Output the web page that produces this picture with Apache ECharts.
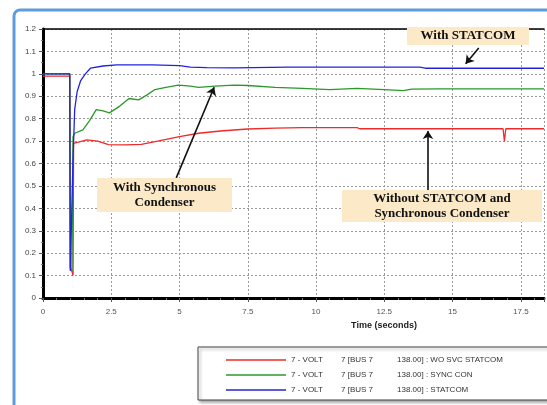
<!DOCTYPE html>
<html>
<head>
<meta charset="utf-8">
<script src="https://cdn.jsdelivr.net/npm/echarts@6/dist/echarts.min.js"></script>
<style>
  html, body { margin: 0; padding: 0; background: #fff; }
  #chart { width: 547px; height: 405px; }
</style>
</head>
<body>
<div id="chart"></div>
<script>
// bus 7 voltage (pu) vs time (s)
var seriesNames = ['WO SVC STATCOM', 'SYNC CON', 'STATCOM'];
var legendParts = [
  ['7 - VOLT', '7 [BUS 7', '138.00] : WO SVC STATCOM'],
  ['7 - VOLT', '7 [BUS 7', '138.00] : SYNC CON'],
  ['7 - VOLT', '7 [BUS 7', '138.00] : STATCOM']
];
var colors = ['#ee2a2a', '#2a982a', '#2323dd'];

var timeRed = [0, 0.98, 1.0, 1.08, 1.1, 1.12, 1.3, 1.6, 2.0, 2.4, 3.0, 3.6, 4.2, 4.6, 5.0, 5.7, 6.5, 7.5, 8.5, 9.5, 11.5, 11.6, 16.85, 16.9, 16.95, 18.35];
var voltRed = [0.99, 0.99, 0.14, 0.11, 0.10, 0.69, 0.695, 0.705, 0.70, 0.684, 0.683, 0.685, 0.70, 0.71, 0.72, 0.735, 0.745, 0.754, 0.758, 0.76, 0.76, 0.755, 0.755, 0.70, 0.755, 0.755];

var timeGreen = [0, 0.98, 1.0, 1.06, 1.1, 1.16, 1.46, 1.7, 1.95, 2.2, 2.43, 2.8, 3.15, 3.5, 3.8, 4.1, 4.5, 4.96, 5.4, 5.7, 6.3, 7.0, 7.5, 8.5, 9.5, 10.5, 11.5, 12.5, 13.2, 13.5, 14.5, 18.35];
var voltGreen = [1.0, 1.0, 0.13, 0.12, 0.72, 0.735, 0.75, 0.79, 0.84, 0.835, 0.826, 0.855, 0.89, 0.884, 0.905, 0.93, 0.94, 0.95, 0.945, 0.94, 0.945, 0.95, 0.948, 0.94, 0.935, 0.93, 0.935, 0.93, 0.925, 0.932, 0.933, 0.933];

var timeBlue = [0, 0.98, 1.0, 1.06, 1.1, 1.16, 1.25, 1.38, 1.55, 1.74, 2.2, 2.7, 4.0, 5.0, 5.4, 6.0, 7.0, 9.0, 12.0, 13.8, 14.0, 18.35];
var voltBlue = [1.0, 1.0, 0.12, 0.12, 0.62, 0.84, 0.92, 0.97, 1.0, 1.025, 1.035, 1.04, 1.04, 1.037, 1.03, 1.028, 1.027, 1.03, 1.03, 1.03, 1.025, 1.025];

var xTicks = [0, 2.5, 5, 7.5, 10, 12.5, 15, 17.5];

function zip(t, v) {
  return t.map(function (x, i) { return [x, v[i]]; });
}
var seriesData = [zip(timeRed, voltRed), zip(timeGreen, voltGreen), zip(timeBlue, voltBlue)];

var myChart = echarts.init(document.getElementById('chart'), null, { renderer: 'canvas' });

var labelFont = 'Liberation Sans, Arial, sans-serif';
var noteFont = 'Liberation Serif, Times New Roman, serif';
var noteBg = '#fbe9c8';

var series = seriesNames.map(function (name, i) {
  return {
    name: name,
    type: 'line',
    data: seriesData[i],
    symbol: 'none',
    lineStyle: { color: colors[i], width: 1.3 },
    itemStyle: { color: colors[i] },
    z: 3 + i
  };
});

// arrows pointing at the curves
series[2].markLine = {
  silent: true,
  symbol: ['none', 'arrow'],
  symbolSize: 8,
  label: { show: false },
  lineStyle: { color: '#111', width: 1.6, type: 'solid' },
  data: [
    [{ coord: [4.88, 0.536] }, { coord: [6.27, 0.94] }],
    [{ coord: [15.96, 1.115] }, { coord: [15.48, 1.045] }],
    [{ coord: [14.1, 0.482] }, { coord: [14.1, 0.745] }]
  ]
};

function note(x, y, w, h, text) {
  return {
    type: 'group',
    z: 100,
    children: [
      { type: 'rect', z: 100, shape: { x: x, y: y, width: w, height: h }, style: { fill: noteBg } },
      {
        type: 'text', z: 101, x: x + w / 2, y: y + h / 2,
        style: {
          text: text, font: 'bold 13px ' + noteFont, fill: '#111',
          align: 'center', verticalAlign: 'middle', lineHeight: 15
        }
      }
    ]
  };
}

var option = {
  animation: false,
  backgroundColor: '#fff',
  grid: { left: 43, right: 0, top: 29, bottom: 107, containLabel: false },
  xAxis: [{
    type: 'value',
    min: 0,
    max: 18.35,
    interval: 2.5,
    axisLine: { show: true, onZero: false, lineStyle: { color: '#000', width: 3 } },
    axisTick: { show: true, length: 4, lineStyle: { color: '#555' } },
    minorTick: { show: true, splitNumber: 5, length: 2, lineStyle: { color: '#777' } },
    axisLabel: {
      color: '#555', fontSize: 8, fontFamily: labelFont, margin: 10,
      formatter: function (v) { return xTicks.indexOf(v) >= 0 ? String(v) : ''; }
    },
    splitLine: { show: true, lineStyle: { color: '#9a9a9a', type: [2, 2], width: 1 } }
  }, {
    type: 'value',
    position: 'top',
    min: 0,
    max: 18.35,
    axisLine: { show: true, onZero: false, lineStyle: { color: '#000', width: 1.5 } },
    axisTick: { show: false },
    axisLabel: { show: false },
    splitLine: { show: false }
  }],
  yAxis: {
    type: 'value',
    min: 0,
    max: 1.2,
    interval: 0.1,
    axisLine: { show: true, onZero: false, lineStyle: { color: '#000', width: 3 } },
    axisTick: { show: true, length: 4, lineStyle: { color: '#555' } },
    minorTick: { show: true, splitNumber: 2, length: 2, lineStyle: { color: '#777' } },
    axisLabel: { color: '#444', fontSize: 8, fontFamily: labelFont, margin: 7 },
    splitLine: { show: true, lineStyle: { color: '#9a9a9a', type: [2, 2], width: 1 } }
  },
  legend: {
    orient: 'vertical',
    left: 221,
    top: 349,
    icon: 'rect',
    itemWidth: 60,
    itemHeight: 1.5,
    itemGap: 3,
    data: seriesNames,
    textStyle: {
      color: '#333', fontSize: 8, fontFamily: labelFont, lineHeight: 12,
      rich: { a: { width: 50, fontSize: 8 }, b: { width: 56, fontSize: 8 }, c: { fontSize: 8 } }
    },
    formatter: function (name) {
      var p = legendParts[seriesNames.indexOf(name)];
      return '{a|' + p[0] + '}{b|' + p[1] + '}{c|' + p[2] + '}';
    },
    z: 30
  },
  graphic: [
    {
      type: 'rect', z: -10, silent: true,
      shape: { x: 14, y: 10, width: 580, height: 440, r: 6 },
      style: { fill: 'none', stroke: '#5e9ddb', lineWidth: 3 }
    },
    {
      type: 'rect', z: 25, silent: true,
      shape: { x: 198, y: 347, width: 380, height: 53 },
      style: {
        fill: '#fff', stroke: '#444', lineWidth: 1,
        shadowBlur: 3, shadowOffsetX: 2, shadowOffsetY: 2, shadowColor: 'rgba(0,0,0,0.35)'
      }
    },
    {
      type: 'text', z: 20, x: 384, y: 326,
      style: {
        text: 'Time (seconds)', font: 'bold 9px ' + labelFont, fill: '#222',
        align: 'center', verticalAlign: 'middle'
      }
    },
    note(407, 27, 122, 18, 'With STATCOM'),
    note(97, 178, 135, 34, 'With Synchronous\nCondenser'),
    note(342, 190, 200, 32, 'Without STATCOM and\nSynchronous Condenser')
  ],
  series: series
};

myChart.setOption(option);
</script>
</body>
</html>
